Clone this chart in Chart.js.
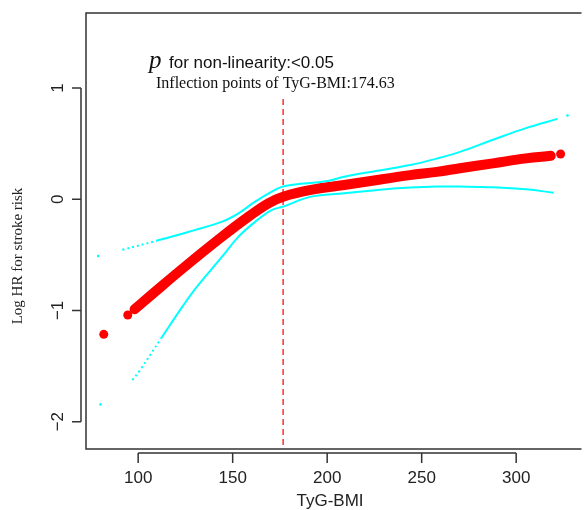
<!DOCTYPE html>
<html>
<head>
<meta charset="utf-8">
<script src="https://cdn.jsdelivr.net/npm/chart.js@4/dist/chart.umd.min.js"></script>
<style>
  html, body { margin: 0; padding: 0; background: #fff; overflow: hidden; }
  #wrap { width: 584px; height: 510px; }
</style>
</head>
<body>
<div id="wrap"><canvas id="rcsChart" width="584" height="510"></canvas></div>
<script>
// values (TyG-BMI vs log HR)
const fitX = [98.1, 111.2, 126.9, 144.4, 158.4, 168.9, 176.7, 191.4, 209.0, 226.5, 243.9, 258.0, 270.2, 287.7, 305.2, 318.3];
const fitY = [-0.990, -0.799, -0.576, -0.337, -0.157, -0.037, 0.022, 0.083, 0.127, 0.173, 0.216, 0.246, 0.278, 0.322, 0.367, 0.390];
const fitDotX = [81.8, 94.5, 323.5];
const fitDotY = [-1.215, -1.041, 0.406];

const upperX = [91.6, 109.4, 126.9, 144.4, 153.1, 161.9, 172.4, 177.6, 200.3, 209.0, 226.5, 243.9, 258.0, 270.2, 287.7, 305.2, 321.8];
const upperY = [-0.455, -0.375, -0.292, -0.202, -0.127, -0.022, 0.083, 0.119, 0.164, 0.202, 0.255, 0.307, 0.365, 0.425, 0.534, 0.639, 0.722];
const lowerX = [96.9, 100.7, 112.1, 123.4, 130.4, 144.4, 153.1, 161.9, 170.6, 176.7, 191.5, 209.0, 226.5, 243.9, 258.0, 270.2, 287.7, 305.2, 319.9];
const lowerY = [-1.626, -1.543, -1.252, -0.966, -0.801, -0.517, -0.337, -0.203, -0.098, -0.067, 0.023, 0.053, 0.083, 0.104, 0.113, 0.113, 0.107, 0.089, 0.058];
const ciDotX = [78.8, 80.1, 327.1];
const ciDotY = [-0.511, -1.845, 0.752];

const inflection = 174.63;
const dashAt = 176.7; // where the dashed line sits in the picture
const xTicks = [100, 150, 200, 250, 300];
const yTicks = [1, 0, -1, -2];
const yTickLabels = ["1", "0", "\u22121", "\u22122"];

const toPts = (xs, ys) => xs.map((x, i) => ({ x: x, y: ys[i] }));

const SANS = "'Liberation Sans', Arial, sans-serif";
const SERIF = "'Liberation Serif', 'Times New Roman', serif";

// R-style axes, box, reference line and annotations
const rStyle = {
  id: "rStyle",
  beforeDatasetsDraw(chart) {
    const { ctx, chartArea: a, scales: { x, y } } = chart;
    ctx.save();
    const xp = x.getPixelForValue(dashAt);
    ctx.strokeStyle = "#ff3030";
    ctx.lineWidth = 1.5;
    ctx.setLineDash([6, 4]);
    ctx.beginPath();
    ctx.moveTo(xp, y.getPixelForValue(0.9));
    ctx.lineTo(xp, a.bottom);
    ctx.stroke();
    ctx.restore();
  },
  afterDraw(chart) {
    const { ctx, chartArea: a, scales: { x, y } } = chart;
    ctx.save();
    ctx.strokeStyle = "#333";
    ctx.fillStyle = "#222";
    ctx.lineWidth = 1.5;

    // box (right side runs off the picture)
    ctx.beginPath();
    ctx.moveTo(a.right + 2, a.top);
    ctx.lineTo(a.left, a.top);
    ctx.lineTo(a.left, a.bottom);
    ctx.lineTo(a.right + 2, a.bottom);
    ctx.stroke();

    // y axis
    const yx = a.left - 5;
    ctx.beginPath();
    ctx.moveTo(yx, y.getPixelForValue(yTicks[0]));
    ctx.lineTo(yx, y.getPixelForValue(yTicks[yTicks.length - 1]));
    yTicks.forEach(v => {
      const p = y.getPixelForValue(v);
      ctx.moveTo(yx, p);
      ctx.lineTo(yx - 9, p);
    });
    ctx.stroke();
    ctx.font = "17px " + SANS;
    ctx.textAlign = "center";
    ctx.textBaseline = "middle";
    yTicks.forEach((v, i) => {
      ctx.save();
      ctx.translate(58, y.getPixelForValue(v));
      ctx.rotate(-Math.PI / 2);
      ctx.fillText(yTickLabels[i], 0, 0);
      ctx.restore();
    });

    // x axis
    const xy = a.bottom + 4;
    ctx.beginPath();
    ctx.moveTo(x.getPixelForValue(xTicks[0]), xy);
    ctx.lineTo(x.getPixelForValue(xTicks[xTicks.length - 1]), xy);
    xTicks.forEach(v => {
      const p = x.getPixelForValue(v);
      ctx.moveTo(p, xy);
      ctx.lineTo(p, xy + 10);
    });
    ctx.stroke();
    xTicks.forEach(v => {
      ctx.fillText(String(v), x.getPixelForValue(v), 478);
    });
    ctx.fillText("TyG-BMI", 330, 501);

    // y title
    ctx.save();
    ctx.translate(18, 256);
    ctx.rotate(-Math.PI / 2);
    ctx.font = "15px " + SERIF;
    ctx.fillText("Log HR for stroke risk", 0, 0);
    ctx.restore();

    // annotations
    ctx.textAlign = "left";
    ctx.textBaseline = "alphabetic";
    ctx.fillStyle = "#111";
    ctx.font = "italic 25px " + SERIF;
    ctx.fillText("p", 149, 68);
    ctx.font = "17px " + SANS;
    ctx.fillText("for non-linearity:<0.05", 169, 68);
    ctx.font = "16px " + SERIF;
    ctx.fillText("Inflection points of TyG-BMI:" + inflection.toFixed(2), 156, 88);
    ctx.restore();
  }
};

const ctx = document.getElementById("rcsChart").getContext("2d");
const rcsChart = new Chart(ctx, {
  type: "scatter",
  data: {
    datasets: [
      {
        label: "Upper CI",
        data: toPts(upperX, upperY),
        showLine: true,
        borderColor: "#00ffff",
        borderWidth: 2,
        pointRadius: 0,
        tension: 0.4,
        segment: { borderDash: c => (c.p0DataIndex < 1 ? [2, 3] : undefined) },
      },
      {
        label: "Lower CI",
        data: toPts(lowerX, lowerY),
        showLine: true,
        borderColor: "#00ffff",
        borderWidth: 2,
        pointRadius: 0,
        tension: 0.4,
        segment: { borderDash: c => (c.p0DataIndex < 2 ? [2, 3] : undefined) },
      },
      {
        label: "CI ends",
        data: toPts(ciDotX, ciDotY),
        backgroundColor: "#00ffff",
        borderWidth: 0,
        pointRadius: 1.3,
      },
      {
        label: "Log HR",
        data: toPts(fitX, fitY),
        showLine: true,
        borderColor: "#ff0000",
        borderWidth: 10,
        borderCapStyle: "round",
        pointRadius: 0,
        tension: 0.4,
      },
      {
        label: "Log HR ends",
        data: toPts(fitDotX, fitDotY),
        backgroundColor: "#ff0000",
        borderWidth: 0,
        pointRadius: 4.5,
      },
    ],
  },
  options: {
    responsive: false,
    animation: false,
    layout: { padding: { left: 86, top: 13, right: 0, bottom: 61 } },
    plugins: {
      legend: { display: false },
      tooltip: { enabled: false },
    },
    scales: {
      x: { type: "linear", min: 72.4, max: 333.5, display: false },
      y: { type: "linear", min: -2.246, max: 1.674, display: false },
    },
  },
  plugins: [rStyle],
});
</script>
</body>
</html>
